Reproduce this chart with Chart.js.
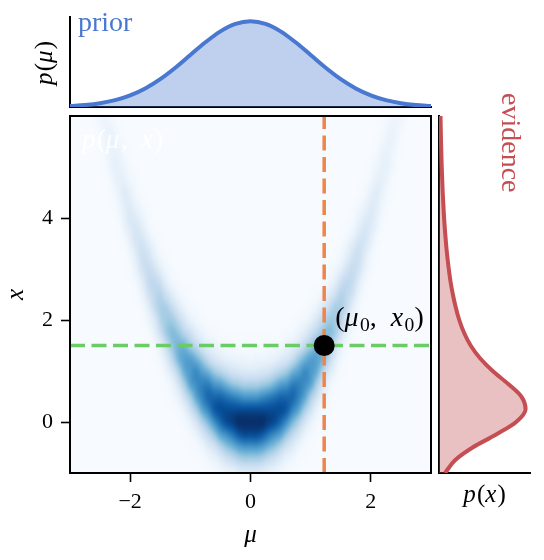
<!DOCTYPE html>
<html><head><meta charset="utf-8">
<script src="https://cdn.jsdelivr.net/npm/chart.js@4.4.1/dist/chart.umd.min.js"></script>
<style>
html,body{margin:0;padding:0;background:#fff;}
#wrap{position:relative;width:544px;height:560px;overflow:hidden;}
#wrap canvas{position:absolute;left:0;top:0;width:544px;height:560px;}
</style></head>
<body><div id="wrap">
<canvas id="main" width="544" height="560"></canvas>
<canvas id="prior" width="544" height="560"></canvas>
<canvas id="evid" width="544" height="560"></canvas>
</div>
<script>
// ---------------- data ----------------
const muRange = [-3, 3];
const xRange = [-1, 6];
const xTicks = [-2, 0, 2];
const yTicks = [0, 2, 4];
const mu0 = 1.2247;
const x0 = 1.5;

const priorMu = [-3,-2.75,-2.5,-2.25,-2,-1.75,-1.5,-1.25,-1,-0.75,-0.5,-0.25,0,0.25,0.5,0.75,1,1.25,1.5,1.75,2,2.25,2.5,2.75,3];
const priorDensity = [0.0044,0.0091,0.0175,0.0317,0.0540,0.0863,0.1295,0.1826,0.2420,0.3011,0.3521,0.3867,0.3989,0.3867,0.3521,0.3011,0.2420,0.1826,0.1295,0.0863,0.0540,0.0317,0.0175,0.0091,0.0044];
const priorYMax = 0.4188;

const evidenceX = [-1,-0.75,-0.5,-0.25,0,0.25,0.5,0.75,1,1.25,1.5,1.75,2,2.25,2.5,2.75,3,3.25,3.5,3.75,4,4.5,5,5.5,6];
const evidenceDensity = [0.034,0.090,0.189,0.319,0.434,0.487,0.463,0.388,0.302,0.231,0.178,0.141,0.114,0.094,0.078,0.065,0.055,0.0465,0.0395,0.0336,0.0285,0.0209,0.0154,0.0114,0.0085];
const evidenceXMax = 0.512;

// joint density p(mu, x): rows x = 6 ... -1 (step 0.25), columns mu = -3 ... 3 (step 0.1)
// base-36 level L (0-z) ~ density (L/35)^2 of the maximum
const heatRows = [
"0001478631 0000000000 0000000000 0 0000000000 0000000000 1368741000",
"0000268852 0000000000 0000000000 0 0000000000 0000000000 2588620000",
"0000148974 1000000000 0000000000 0 0000000000 0000000001 4798410000",
"0000136996 3100000000 0000000000 0 0000000000 0000000013 6996310000",
"00000259a8 5210000000 0000000000 0 0000000000 0000000125 8a95200000",
"00000137aa 7421000000 0000000000 0 0000000000 0000001247 aa73100000",
"000000259c a631000000 0000000000 0 0000000000 000000136a c952000000",
"000000137b c963100000 0000000000 0 0000000000 000001369c b731000000",
"000000025a dc95220000 0000000000 0 0000000000 00002259cd a520000000",
"0000000138 cec8421000 0000000000 0 0000000000 0001248cec 8310000000",
"0000000025 aefc842100 0000000000 0 0000000000 001248cfea 5200000000",
"0000000013 7cgfb74210 0000000000 0 0000000000 01247bfgc7 3100000000",
"0000000002 5afhfb7421 0000000000 0 0000000000 1247bfhfa5 2000000000",
"0000000001 37chigb742 2100000000 0 0000000012 247bgihc73 1000000000",
"0000000000 149fijgc85 3210000000 0 0000000123 58cgjif941 0000000000",
"0000000000 226bhkkhd9 6421100000 0 0000011246 9dhkkhb622 0000000000",
"0000000000 0138djllie a753220000 0 000022357a eilljd8310 0000000000",
"0000000000 0025aglnmj gc96533222 2 22233569cg jmnlga5200 0000000000",
"0000000000 00226bhmoo lieb976544 4 445679beil oomhb62200 0000000000",
"0000000000 000137djoq qolheca988 7 889acehloq qojd731000 0000000000",
"0000000000 0000249ekp rsqoljhfed d defhjloqsr pke9420000 0000000000",
"0000000000 00001259fl qsttrqomlk k klmoqrttsq lf95210000 0000000000",
"0000000000 00000236ag lqtvvvutsr r rstuvvvtql ga63200000 0000000000",
"0000000000 000000236a glqtwxxxxx x xxxxxwtqlg a632000000 0000000000",
"0000000000 0000000136 afkosvxyzz z zzyxvsokfa 6310000000 0000000000",
"0000000000 0000000013 69eimqsuwx x xwusqmie96 3100000000 0000000000",
"0000000000 0000000002 358cfjmoqr r rqomjfc853 2000000000 0000000000",
"0000000000 0000000000 23479cfhjk k kjhfc97432 0000000000 0000000000",
"0000000000 0000000000 0123579acd d dca9753210 0000000000 0000000000"
];
const heatLevelMax = 35;

// ---------------- styling ----------------
const FONT = 'Liberation Serif';
Chart.defaults.font.family = '"' + FONT + '", serif';
Chart.defaults.color = '#000';
const BLUE = '#4878d0', RED = '#c44e52', ORANGE = '#ee854a', GREEN = '#6acc64';

const bluesStops = [[247,251,255],[222,235,247],[198,219,239],[158,202,225],[107,174,214],[66,146,198],[33,113,181],[8,81,156],[8,48,107]];
function blues(t) {
  t = Math.max(0, Math.min(1, t));
  const p = t * (bluesStops.length - 1);
  const i = Math.min(Math.floor(p), bluesStops.length - 2);
  const f = p - i;
  const a = bluesStops[i], b = bluesStops[i + 1];
  return [0,1,2].map(k => Math.round(a[k] + (b[k] - a[k]) * f));
}

const levels = heatRows.map(r => Array.from(r.replace(/ /g, ''), ch => parseInt(ch, 36)));
const nC = levels[0].length, nR = levels.length;
function cr(p0, p1, p2, p3, t) {
  return 0.5 * (2 * p1 + (-p0 + p2) * t + (2 * p0 - 5 * p1 + 4 * p2 - p3) * t * t + (-p0 + 3 * p1 - 3 * p2 + p3) * t * t * t);
}
function cell(r, c) {
  return levels[Math.max(0, Math.min(nR - 1, r))][Math.max(0, Math.min(nC - 1, c))];
}
function sampleLevel(rf, cf) {
  const r0 = Math.floor(rf), c0 = Math.floor(cf), tr = rf - r0, tc = cf - c0;
  const col = [];
  for (let k = -1; k <= 2; k++) col.push(cr(cell(r0 + k, c0 - 1), cell(r0 + k, c0), cell(r0 + k, c0 + 1), cell(r0 + k, c0 + 2), tc));
  return cr(col[0], col[1], col[2], col[3], tr);
}

function fmt(v) { return v < 0 ? '\u2212' + Math.abs(v) : String(v); }

function drawMath(ctx, parts, x, y, size, color, align) {
  const items = parts.map(([t, s]) => {
    const sub = s === 's';
    const fs = sub ? size * 0.7 : size;
    const font = (s === 'i' ? 'italic ' : '') + fs + 'px "' + FONT + '"';
    ctx.font = font;
    const w = t === ' ' ? size * 0.5 : ctx.measureText(t).width + (s === 'i' ? size * 0.05 : 0);
    return { t, font, w, dy: sub ? size * 0.2 : 0 };
  });
  const total = items.reduce((a, b) => a + b.w, 0);
  let cx = align === 'center' ? x - total / 2 : x;
  ctx.save();
  ctx.fillStyle = color; ctx.textBaseline = 'alphabetic'; ctx.textAlign = 'left';
  for (const it of items) {
    if (it.t !== ' ') { ctx.font = it.font; ctx.fillText(it.t, cx, y + it.dy); }
    cx += it.w;
  }
  ctx.restore();
}

const common = {
  responsive: false, animation: false, events: [],
  plugins: { legend: { display: false }, tooltip: { enabled: false } }
};
const blackBorder = { display: true, color: '#000', width: 2 };
const tickGrid = { display: true, drawOnChartArea: false, drawTicks: true, tickLength: 9, tickWidth: 1.6, tickColor: '#000' };

// ---------------- main joint panel ----------------
let heatImage = null;
const heatPlugin = {
  id: 'heat',
  beforeDatasetsDraw(chart) {
    const { ctx, chartArea: a, scales: { x, y } } = chart;
    const W = Math.round(a.right - a.left), H = Math.round(a.bottom - a.top);
    if (!heatImage) {
      heatImage = document.createElement('canvas');
      heatImage.width = W; heatImage.height = H;
      const hctx = heatImage.getContext('2d');
      const img = hctx.createImageData(W, H);
      const dMu = (muRange[1] - muRange[0]) / (nC - 1);
      const dX = (xRange[1] - xRange[0]) / (nR - 1);
      for (let py = 0; py < H; py++) {
        const xv = y.getValueForPixel(a.top + py + 0.5);
        const rf = (xRange[1] - xv) / dX;
        for (let px = 0; px < W; px++) {
          const mv = x.getValueForPixel(a.left + px + 0.5);
          const cf = (mv - muRange[0]) / dMu;
          const lv = Math.max(0, Math.min(heatLevelMax, sampleLevel(rf, cf))) / heatLevelMax;
          const c = blues(lv * lv);
          const k = (py * W + px) * 4;
          img.data[k] = c[0]; img.data[k + 1] = c[1]; img.data[k + 2] = c[2]; img.data[k + 3] = 255;
        }
      }
      hctx.putImageData(img, 0, 0);
    }
    ctx.save();
    ctx.drawImage(heatImage, a.left, a.top, W, H);
    ctx.restore();
  },
  afterDatasetsDraw(chart) {
    const { ctx, chartArea: a } = chart;
    ctx.save();
    ctx.strokeStyle = '#000'; ctx.lineWidth = 2;
    ctx.strokeRect(a.left, a.top, a.right - a.left, a.bottom - a.top);
    ctx.restore();
  },
  afterDraw(chart) {
    const { ctx, scales: { x, y } } = chart;
    drawMath(ctx, [['(', 'r'], ['μ', 'i'], ['0', 's'], [',', 'r'], [' ', 'r'], ['x', 'i'], ['0', 's'], [')', 'r']],
      x.getPixelForValue(mu0) + 11, y.getPixelForValue(x0) - 20, 28, '#000', 'left');
    drawMath(ctx, [['p', 'i'], ['(', 'r'], ['μ', 'i'], [',', 'r'], [' ', 'r'], ['x', 'i'], [')', 'r']],
      chart.chartArea.left + 12, chart.chartArea.top + 32, 27, 'rgba(255,255,255,0.9)', 'left');
  }
};

new Chart(document.getElementById('main'), {
  type: 'scatter',
  data: {
    datasets: [
      { data: [{ x: mu0, y: x0 }], pointRadius: 10.5, pointBackgroundColor: '#000', pointBorderWidth: 0, backgroundColor: '#000', borderColor: '#000' },
      { data: [{ x: muRange[0], y: x0 }, { x: muRange[1], y: x0 }], showLine: true, borderColor: GREEN, borderWidth: 3.5, borderDash: [15, 6.5], pointRadius: 0 },
      { data: [{ x: mu0, y: xRange[0] }, { x: mu0, y: xRange[1] }], showLine: true, borderColor: ORANGE, borderWidth: 3.5, borderDash: [15, 6.5], pointRadius: 0 }
    ]
  },
  options: Object.assign({}, common, {
    layout: { padding: { left: 0, top: 116, right: 113, bottom: 0 } },
    scales: {
      x: {
        type: 'linear', position: 'bottom', min: muRange[0], max: muRange[1],
        afterBuildTicks: s => { s.ticks = xTicks.map(v => ({ value: v })); },
        afterFit: s => { s.height = 87; },
        ticks: { font: { size: 22 }, padding: 7, maxRotation: 0, autoSkip: false, callback: v => fmt(v) },
        grid: tickGrid, border: blackBorder,
        title: { display: true, text: 'μ', font: { size: 25, style: 'italic' }, padding: { top: 0, bottom: 10 } }
      },
      y: {
        type: 'linear', position: 'left', min: xRange[0], max: xRange[1],
        afterBuildTicks: s => { s.ticks = yTicks.map(v => ({ value: v })); },
        afterFit: s => { s.width = 70; },
        ticks: { font: { size: 22 }, padding: 8, autoSkip: false, callback: v => fmt(v) },
        grid: tickGrid, border: blackBorder,
        title: { display: true, text: 'x', font: { size: 25, style: 'italic' }, padding: { top: 1, bottom: 0 } }
      }
    }
  }),
  plugins: [heatPlugin]
});

// ---------------- prior panel (top) ----------------
const priorPlugin = {
  id: 'priorText',
  afterDraw(chart) {
    const { ctx } = chart;
    ctx.save();
    ctx.fillStyle = BLUE; ctx.font = '28px "' + FONT + '"';
    ctx.textBaseline = 'alphabetic'; ctx.textAlign = 'left';
    ctx.fillText('prior', 78, 30.5);
    ctx.translate(52, 63); ctx.rotate(-Math.PI / 2);
    drawMath(ctx, [['p', 'i'], ['(', 'r'], ['μ', 'i'], [')', 'r']], 0, 0, 25, '#000', 'center');
    ctx.restore();
  }
};
new Chart(document.getElementById('prior'), {
  type: 'scatter',
  data: {
    datasets: [{
      data: priorMu.map((m, i) => ({ x: m, y: priorDensity[i] })),
      showLine: true, borderColor: BLUE, borderWidth: 4, pointRadius: 0,
      cubicInterpolationMode: 'monotone', fill: 'origin', backgroundColor: 'rgba(72,120,208,0.35)'
    }]
  },
  options: Object.assign({}, common, {
    layout: { padding: { left: 0, top: 17, right: 113, bottom: 453 } },
    scales: {
      x: { type: 'linear', position: 'bottom', min: muRange[0], max: muRange[1], ticks: { display: false }, grid: { display: false }, border: blackBorder, afterFit: s => { s.height = 0; } },
      y: { type: 'linear', position: 'left', min: 0, max: priorYMax, ticks: { display: false }, grid: { display: false }, border: blackBorder, afterFit: s => { s.width = 70; } }
    }
  }),
  plugins: [priorPlugin]
});

// ---------------- evidence panel (right) ----------------
const evidPlugin = {
  id: 'evidText',
  afterDraw(chart) {
    const { ctx } = chart;
    ctx.save();
    ctx.fillStyle = RED; ctx.font = '28px "' + FONT + '"';
    ctx.textBaseline = 'alphabetic'; ctx.textAlign = 'left';
    ctx.translate(502, 93); ctx.rotate(Math.PI / 2);
    ctx.fillText('evidence', 0, 0);
    ctx.restore();
    drawMath(ctx, [['p', 'i'], ['(', 'r'], ['x', 'i'], [')', 'r']], 484.5, 502, 25, '#000', 'center');
  }
};
new Chart(document.getElementById('evid'), {
  type: 'line',
  data: {
    datasets: [{
      data: evidenceX.map((v, i) => ({ x: evidenceDensity[i], y: v })),
      borderColor: RED, borderWidth: 4, pointRadius: 0,
      cubicInterpolationMode: 'monotone', fill: 'origin', backgroundColor: 'rgba(196,78,82,0.35)'
    }]
  },
  options: Object.assign({}, common, {
    indexAxis: 'y',
    layout: { padding: { left: 439, top: 116, right: 14, bottom: 87 } },
    scales: {
      x: { type: 'linear', position: 'bottom', min: 0, max: evidenceXMax, ticks: { display: false }, grid: { display: false }, border: blackBorder, afterFit: s => { s.height = 0; } },
      y: { type: 'linear', position: 'left', min: xRange[0], max: xRange[1], ticks: { display: false }, grid: { display: false }, border: blackBorder, afterFit: s => { s.width = 0; } }
    }
  }),
  plugins: [evidPlugin]
});
</script></body></html>
